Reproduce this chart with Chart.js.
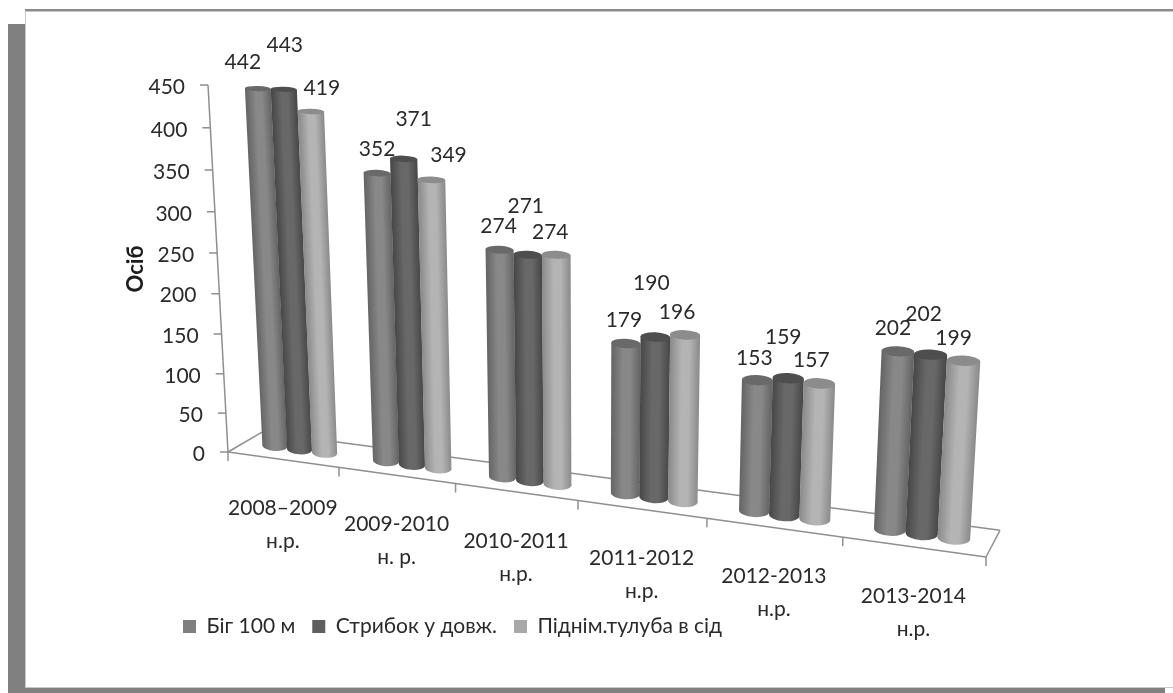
<!DOCTYPE html>
<html lang="uk">
<head>
<meta charset="utf-8">
<title>Осіб</title>
<script src="https://cdn.jsdelivr.net/npm/chart.js@4/dist/chart.umd.js"></script>
<style>
    html, body { margin: 0; padding: 0; background: #fff; overflow: hidden; }
    canvas { display: block; }
</style>
</head>
<body>
<canvas id="testsChart" width="1173" height="693"></canvas>
<script>
const categories = [
    ["2008–2009", "н.р."],
    ["2009-2010", "н. р."],
    ["2010-2011", "н.р."],
    ["2011-2012", "н.р."],
    ["2012-2013", "н.р."],
    ["2013-2014", "н.р."]
];
const runValues = [442, 352, 274, 179, 153, 202];
const jumpValues = [443, 371, 271, 190, 159, 202];
const situpValues = [419, 349, 274, 196, 157, 199];
const seriesNames = ["Біг 100 м", "Стрибок у довж.", "Піднім.тулуба в сід"];
const axisTitle = "Осіб";

// body gradient edge / centre, top cap, legend swatch
const runColors = { edge: "#646464", mid: "#888888", cap: "#696969", swatch: "#7f7f7f" };
const jumpColors = { edge: "#474747", mid: "#686868", cap: "#4e4e4e", swatch: "#5f5f5f" };
const situpColors = { edge: "#8a8a8a", mid: "#b4b4b4", cap: "#8c8c8c", swatch: "#a8a8a8" };

// value labels sit by hand around the cylinder tops, one [dx, dy] per bar
const runNudge = [[-15, -26], [0, -24], [-1, -24], [-2, -23], [-3, -22], [-5, -23]];
const jumpNudge = [[1, -44], [10, -40], [-2, -49], [-4, -54], [-5, -41], [-7, -40]];
const situpNudge = [[11, -23], [17, -25], [-6, -23], [-8, -23], [-8, -23], [-10, -23]];

const FONT = "Lato, 'Open Sans', 'Noto Sans', sans-serif";
const FONT_SIZE = 21;
const TEXT_COLOR = "#2a2a2a";
const AXIS_COLOR = "#8f8f8f";

// perspective for the 3D box: u along categories, v up the value axis, w into the depth
const PX = [618, -30.8, 41.8, 228];
const PY = [25.9, -371.4, -7.1, 452];
const PD = [-0.142, -0.052, 0.0298, 1];

// ellipses look better with less of the floor's slope
const RING_TILT = 0.5;

function project(u, v, w) {
    const d = PD[0] * u + PD[1] * v + PD[2] * w + PD[3];
    return {
        x: (PX[0] * u + PX[1] * v + PX[2] * w + PX[3]) / d,
        y: (PY[0] * u + PY[1] * v + PY[2] * w + PY[3]) / d
    };
}

function line(ctx, a, b) {
    ctx.beginPath();
    ctx.moveTo(a.x, a.y);
    ctx.lineTo(b.x, b.y);
    ctx.stroke();
}

function drawFrame(ctx, chart) {
    ctx.fillStyle = "#8a8a8a";
    ctx.fillRect(25, 9, chart.width - 25, 2);
    ctx.fillStyle = "#c8c8c8";
    ctx.fillRect(25, 11, chart.width - 25, 1);
    ctx.fillRect(25, 12, 1, chart.height - 12);
    ctx.fillRect(26, 687, chart.width - 26, 1);
    ctx.fillStyle = "#808080";
    ctx.fillRect(8, 24, 17, chart.height - 24);
    ctx.fillRect(8, 688, 1157, 5);
}

function drawFloor(ctx) {
    ctx.strokeStyle = AXIS_COLOR;
    ctx.lineWidth = 1.5;
    line(ctx, project(0, 0, 0), project(1, 0, 0));
    line(ctx, project(0, 0, 1), project(1, 0, 1));
    line(ctx, project(0, 0, 0), project(0, 0, 1));
    line(ctx, project(1, 0, 0), project(1, 0, 1));
    line(ctx, project(0, 0, 0), project(0, 1, 0));
}

function drawAxes(ctx, chart) {
    const xScale = chart.scales.x;
    const yScale = chart.scales.y;
    const area = chart.chartArea;

    ctx.fillStyle = TEXT_COLOR;
    ctx.strokeStyle = AXIS_COLOR;
    ctx.lineWidth = 1.5;
    ctx.font = FONT_SIZE + "px " + FONT;
    ctx.textBaseline = "middle";

    // value ticks
    ctx.textAlign = "right";
    yScale.ticks.forEach(tick => {
        const v = (area.bottom - yScale.getPixelForValue(tick.value)) / area.height;
        const p = project(0, v, 0);
        line(ctx, p, { x: p.x - 8, y: p.y });
        ctx.fillText(tick.label, p.x - 23, p.y + 2);
    });

    // category ticks and their two line labels
    for (let i = 0; i <= categories.length; i++) {
        const p = project(i / categories.length, 0, 0);
        line(ctx, p, { x: p.x, y: p.y + 9 });
    }
    ctx.textAlign = "center";
    categories.forEach((lines, i) => {
        const u = (xScale.getPixelForTick(i) - area.left) / area.width;
        const p = project(u, 0, 0);
        lines.forEach((text, n) => ctx.fillText(text, p.x, p.y + 49 + n * 33));
    });

    // rotated axis title
    ctx.save();
    ctx.translate(136, 269);
    ctx.rotate(-Math.PI / 2);
    ctx.font = "bold 22px " + FONT;
    ctx.fillStyle = "#1c1c1c";
    ctx.fillText(axisTitle, 0, 0);
    ctx.restore();
}

function drawCylinder(ctx, chart, bar, colors) {
    const area = chart.chartArea;
    const u = (bar.x - area.left) / area.width;
    const halfU = bar.width / 2 / area.width;
    const v = (area.bottom - bar.y) / area.height;

    function ring(level) {
        const a = project(u - halfU, level, 0.5);
        const b = project(u + halfU, level, 0.5);
        const near = project(u, level, 0.25);
        const far = project(u, level, 0.75);
        const x = (a.x + b.x) / 2;
        const y = (a.y + b.y) / 2;
        const rx = Math.hypot(b.x - a.x, b.y - a.y) / 2;
        const angle = Math.atan2(b.y - a.y, b.x - a.x) * RING_TILT;
        const dx = Math.cos(angle) * rx;
        const dy = Math.sin(angle) * rx;
        return {
            x, y, rx, angle,
            ry: Math.abs(near.y - far.y) / 2,
            left: { x: x - dx, y: y - dy },
            right: { x: x + dx, y: y + dy }
        };
    }
    const top = ring(v);
    const bottom = ring(0);

    // shade across the body, square to its lean
    const axisLen = Math.hypot(top.x - bottom.x, top.y - bottom.y);
    const nx = (bottom.y - top.y) / axisLen;
    const ny = (top.x - bottom.x) / axisLen;
    const midX = (top.x + bottom.x) / 2;
    const midY = (top.y + bottom.y) / 2;
    const r = (top.rx + bottom.rx) / 2;
    const grad = ctx.createLinearGradient(midX - nx * r, midY - ny * r, midX + nx * r, midY + ny * r);
    grad.addColorStop(0, colors.edge);
    grad.addColorStop(0.4, colors.mid);
    grad.addColorStop(0.65, colors.mid);
    grad.addColorStop(1, colors.edge);

    ctx.fillStyle = grad;
    ctx.beginPath();
    ctx.ellipse(bottom.x, bottom.y, bottom.rx, bottom.ry, bottom.angle, 0, Math.PI * 2);
    ctx.fill();
    ctx.beginPath();
    ctx.moveTo(top.left.x, top.left.y);
    ctx.lineTo(top.right.x, top.right.y);
    ctx.lineTo(bottom.right.x, bottom.right.y);
    ctx.lineTo(bottom.left.x, bottom.left.y);
    ctx.closePath();
    ctx.fill();

    ctx.fillStyle = colors.cap;
    ctx.beginPath();
    ctx.ellipse(top.x, top.y, top.rx, top.ry, top.angle, 0, Math.PI * 2);
    ctx.fill();

    return top;
}

const cylinderPlugin = {
    id: "cylinders",
    beforeDraw(chart) {
        drawFrame(chart.ctx, chart);
        drawFloor(chart.ctx);
    },
    beforeDatasetsDraw(chart) {
        const ctx = chart.ctx;
        const tops = [];

        chart.data.datasets.forEach((ds, s) => {
            const meta = chart.getDatasetMeta(s);
            meta.data.forEach((bar, i) => {
                const top = drawCylinder(ctx, chart, bar, ds.colors);
                tops.push({ top, text: String(ds.data[i]), nudge: ds.nudge[i] });
            });
        });

        drawAxes(ctx, chart);

        ctx.fillStyle = TEXT_COLOR;
        ctx.font = FONT_SIZE + "px " + FONT;
        ctx.textAlign = "center";
        ctx.textBaseline = "middle";
        tops.forEach(item => {
            ctx.fillText(item.text, item.top.x + item.nudge[0], item.top.y + item.nudge[1]);
        });

        // the library's own bars are replaced by the cylinders above
        return false;
    }
};

function makeDataset(name, values, colors, nudge) {
    return {
        label: name,
        data: values,
        backgroundColor: colors.swatch,
        borderWidth: 0,
        colors: colors,
        nudge: nudge
    };
}

new Chart(document.getElementById("testsChart").getContext("2d"), {
    type: "bar",
    data: {
        labels: categories,
        datasets: [
            makeDataset(seriesNames[0], runValues, runColors, runNudge),
            makeDataset(seriesNames[1], jumpValues, jumpColors, jumpNudge),
            makeDataset(seriesNames[2], situpValues, situpColors, situpNudge)
        ]
    },
    options: {
        responsive: false,
        animation: false,
        layout: { padding: { left: 166, right: 60, top: 40, bottom: 46 } },
        datasets: { bar: { categoryPercentage: 0.68, barPercentage: 1 } },
        scales: {
            x: { display: false },
            y: { display: false, min: 0, max: 450, ticks: { stepSize: 50 } }
        },
        plugins: {
            tooltip: { enabled: false },
            legend: {
                position: "bottom",
                align: "start",
                labels: {
                    boxWidth: 13,
                    boxHeight: 13,
                    padding: 17,
                    color: TEXT_COLOR,
                    font: { family: FONT, size: FONT_SIZE }
                }
            }
        }
    },
    plugins: [cylinderPlugin]
});
</script>
</body>
</html>
